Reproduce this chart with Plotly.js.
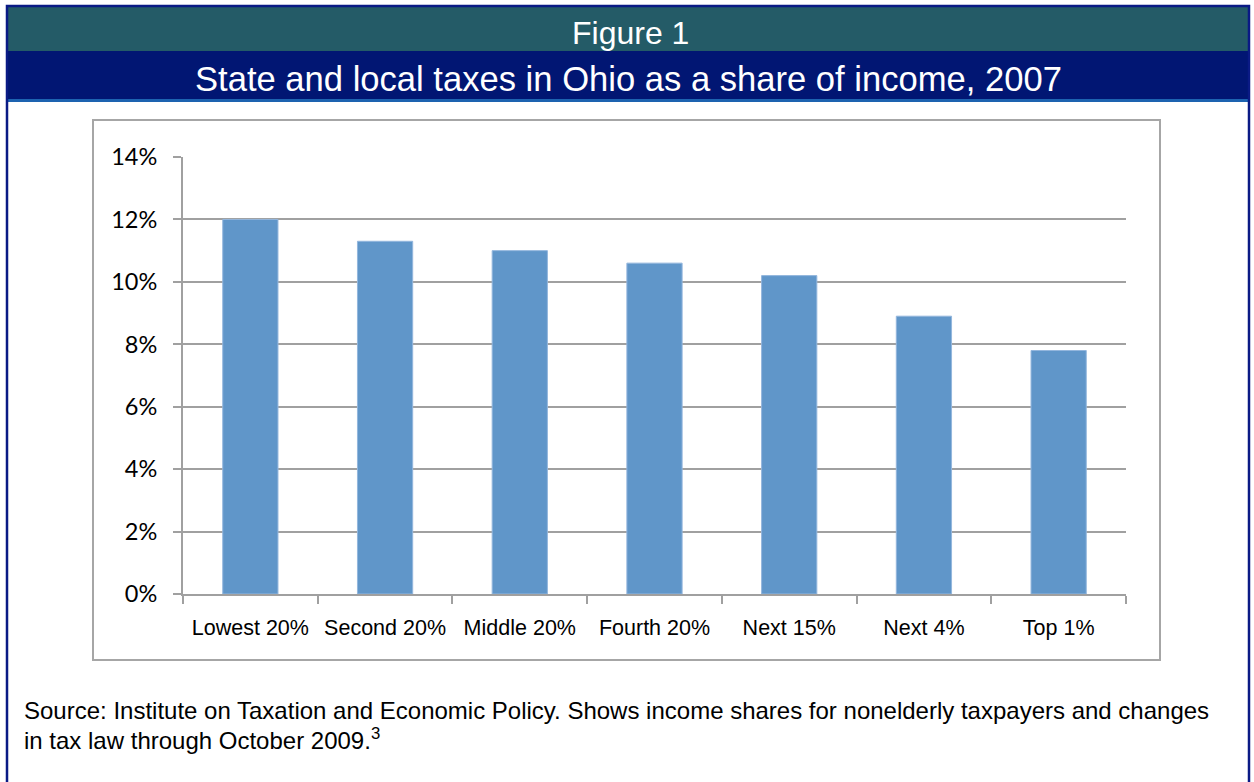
<!DOCTYPE html>
<html>
<head>
<meta charset="utf-8">
<script src="https://cdn.plot.ly/plotly-3.0.1.min.js"></script>
<style>
html,body{margin:0;padding:0;background:#fff;overflow:hidden;}
#chart{width:1254px;height:782px;}
</style>
</head>
<body>
<div id="chart"></div>
<script>
var categories = ["Lowest 20%", "Second 20%", "Middle 20%", "Fourth 20%", "Next 15%", "Next 4%", "Top 1%"];
var taxShare = [12.0, 11.3, 11.0, 10.6, 10.2, 8.9, 7.8];
var yTickVals = [0, 2, 4, 6, 8, 10, 12, 14];
var yTickText = ["0%", "2%", "4%", "6%", "8%", "10%", "12%", "14%"];
var figureLabel = "Figure 1";
var chartTitle = "State and local taxes in Ohio as a share of income, 2007";
var sourceLine1 = "Source: Institute on Taxation and Economic Policy. Shows income shares for nonelderly taxpayers and changes";
var sourceLine2 = "in tax law through October 2009.<sup>3</sup>";

var W = 1254, H = 782;
var L = 183, R = 1126, T = 157, B = 594;
function px(x){ return (x - L) / (R - L); }
function py(y){ return (B - y) / (B - T); }

var sans = "'Liberation Sans', Arial, sans-serif";

var trace = {
  type: "bar",
  x: categories,
  y: taxShare,
  marker: {color: "#6096c9", line: {color: "#93b6dd", width: 1}},
  hoverinfo: "x+y"
};

var layout = {
  width: W, height: H,
  margin: {l: L, r: W - R, t: T, b: H - B, pad: 0},
  paper_bgcolor: "#ffffff",
  plot_bgcolor: "#ffffff",
  showlegend: false,
  bargap: 0.59,
  xaxis: {
    type: "category",
    showgrid: false,
    showline: true, linecolor: "#a0a0a0", linewidth: 2,
    ticks: "outside", tickson: "boundaries", ticklen: 8, tickwidth: 2, tickcolor: "#a0a0a0",
    tickfont: {family: sans, size: 21.5, color: "#000"},
    ticklabelstandoff: 13,
    fixedrange: true
  },
  yaxis: {
    range: [0, 14],
    tickvals: yTickVals, ticktext: yTickText,
    showgrid: true, gridcolor: "#a0a0a0", gridwidth: 2,
    zeroline: false,
    showline: true, linecolor: "#a0a0a0", linewidth: 2,
    ticks: "outside", ticklen: 8, tickwidth: 2, tickcolor: "#a0a0a0",
    tickfont: {family: "Lato, 'Open Sans', sans-serif", size: 23.5, color: "#000"},
    ticklabelstandoff: 11,
    fixedrange: true
  },
  shapes: [
    {type: "rect", xref: "paper", yref: "paper", x0: px(93), x1: px(1160), y0: py(120), y1: py(660),
     line: {color: "#a6a6a6", width: 2}, fillcolor: "rgba(0,0,0,0)", layer: "below"},
    {type: "rect", xref: "paper", yref: "paper", x0: px(8), x1: px(1248), y0: py(6), y1: py(51),
     line: {width: 0}, fillcolor: "#245b67"},
    {type: "rect", xref: "paper", yref: "paper", x0: px(8), x1: px(1248), y0: py(51), y1: py(99),
     line: {width: 0}, fillcolor: "#011673"},
    {type: "rect", xref: "paper", yref: "paper", x0: px(8), x1: px(1248), y0: py(99), y1: py(102),
     line: {width: 0}, fillcolor: "#1d63b0"},
    {type: "rect", xref: "paper", yref: "paper", x0: px(7), x1: px(1249), y0: py(6), y1: py(800),
     line: {color: "#0a1a85", width: 2.5}, fillcolor: "rgba(0,0,0,0)"}
  ],
  annotations: [
    {xref: "paper", yref: "paper", x: px(630), y: py(33), text: figureLabel, showarrow: false,
     xanchor: "center", yanchor: "middle", font: {family: sans, size: 32, color: "#ffffff"}},
    {xref: "paper", yref: "paper", x: px(628), y: py(79), text: chartTitle, showarrow: false,
     xanchor: "center", yanchor: "middle", font: {family: sans, size: 34.6, color: "#ffffff"}},
    {xref: "paper", yref: "paper", x: px(22), y: py(710), text: sourceLine1, showarrow: false,
     xanchor: "left", yanchor: "middle", align: "left",
     font: {family: sans, size: 24, color: "#000"}},
    {xref: "paper", yref: "paper", x: px(22), y: py(739), text: sourceLine2, showarrow: false,
     xanchor: "left", yanchor: "middle", align: "left",
     font: {family: sans, size: 24, color: "#000"}}
  ]
};

Plotly.newPlot("chart", [trace], layout, {displayModeBar: false, staticPlot: true});
</script>
</body>
</html>
